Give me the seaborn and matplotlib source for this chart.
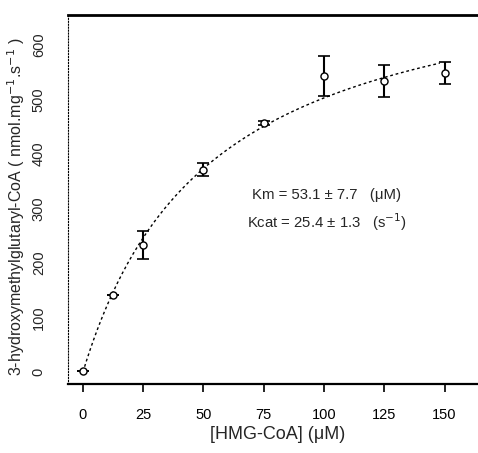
import numpy as np
import pandas as pd
import matplotlib.pyplot as plt
import seaborn as sns

substrate = [0, 12.5, 25, 50, 75, 100, 125, 150]
rate = [2, 141, 233, 371, 457, 543, 534, 549]
rate_err = [0, 0, 25, 12, 4, 36, 30, 20]

# Michaelis-Menten fit shown on the chart
km = 53.1
vmax = 770.0

xticks = [0, 25, 50, 75, 100, 125, 150]
yticks = [0, 100, 200, 300, 400, 500, 600]

sns.set_theme(style="white")
plt.rcParams["font.family"] = ["Liberation Sans", "DejaVu Sans"]

df = pd.DataFrame({"S": substrate, "v": rate, "err": rate_err})
s_fit = np.linspace(0, 148, 200)
fit = pd.DataFrame({"S": s_fit, "v": vmax * s_fit / (km + s_fit)})

fig = plt.figure(figsize=(4.78, 4.53), dpi=100)
ax = fig.add_axes([68 / 478, (453 - 384) / 453, 420 / 478, (384 - 15) / 453])

sns.lineplot(data=fit, x="S", y="v", ax=ax, color="black", lw=1,
             linestyle=(0, (2, 2)))
ax.errorbar(df["S"], df["v"], yerr=df["err"], fmt="none", ecolor="black",
            elinewidth=1.5, capsize=4, capthick=1.2)
sns.scatterplot(data=df, x="S", y="v", ax=ax, marker="o", s=26,
                facecolor="white", edgecolor="black", linewidth=1, zorder=3)

ax.set_xlim(-6.2, 168)
ax.set_ylim(-22, 655)
ax.set_xticks(xticks)
ax.set_yticks(yticks)
ax.tick_params(axis="x", direction="out", length=6, width=1.2, pad=11,
               labelsize=10.5, colors="black", bottom=True)
ax.tick_params(axis="y", length=0, pad=16, labelsize=10.5, labelrotation=90)
for lab in ax.get_yticklabels():
    lab.set_va("center")

ax.set_xlabel("[HMG-CoA] (\u03bcM)", fontsize=13, labelpad=3)
ax.set_ylabel("3-hydroxymethylglutaryl-CoA ( nmol.mg$^{-1}$.s$^{-1}$ )",
              fontsize=11.5)
ax.yaxis.set_label_coords(-0.098, 0.48)

ax.spines["top"].set_linewidth(2)
ax.spines["bottom"].set_linewidth(1.6)
ax.spines["left"].set_linewidth(0.8)
ax.spines["left"].set_linestyle(":")
ax.spines["right"].set_visible(False)
for side in ["top", "bottom", "left"]:
    ax.spines[side].set_color("black")

ax.text(101, 325, "Km = 53.1 \u00b1 7.7   (\u03bcM)", fontsize=10.7,
        ha="center", va="center")
ax.text(101, 275, "Kcat = 25.4 \u00b1 1.3   (s$^{-1}$)", fontsize=10.7,
        ha="center", va="center")

fig.savefig("out.png", dpi=100)
plt.close(fig)
